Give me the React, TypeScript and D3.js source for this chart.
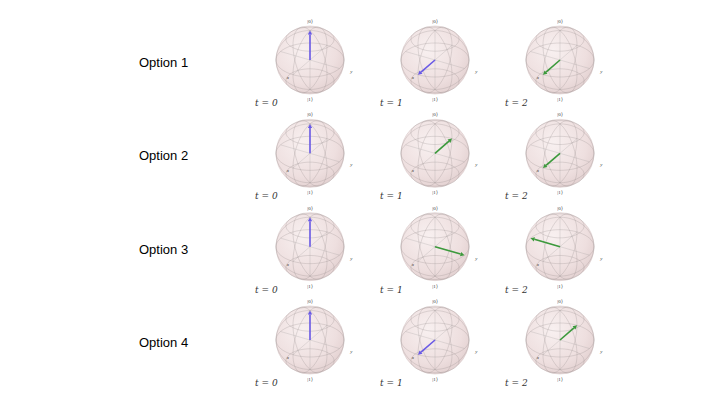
import * as d3 from 'd3';

const options = ['Option 1', 'Option 2', 'Option 3', 'Option 4'];
const timeLabels = ['t = 0', 't = 1', 't = 2'];
// Bloch vectors per option and time step: [x, y, z]
const vectors: number[][][] = [
  [[0, 0, 1], [1, 0, 0], [1, 0, 0]],
  [[0, 0, 1], [-1, 0, 0], [1, 0, 0]],
  [[0, 0, 1], [0, 1, 0], [0, -1, 0]],
  [[0, 0, 1], [1, 0, 0], [-1, 0, 0]],
];
const vectorColors = [
  ['blue', 'blue', 'green'],
  ['blue', 'green', 'green'],
  ['blue', 'green', 'green'],
  ['blue', 'blue', 'green'],
];
const palette: Record<string, string> = { blue: '#6a5ae6', green: '#3c9a3c' };

const W = 720, H = 405;
const colX = d3.scalePoint<number>().domain([0, 1, 2]).range([310, 560]);
const rowY = d3.scalePoint<number>().domain([0, 1, 2, 3]).range([60, 340]);
const R = 34;

const az = (30 * Math.PI) / 180, el = (30 * Math.PI) / 180;
const right = [-Math.sin(az), Math.cos(az), 0];
const up = [-Math.cos(az) * Math.sin(el), -Math.sin(az) * Math.sin(el), Math.cos(el)];
const dot = (a: number[], b: number[]) => a[0] * b[0] + a[1] * b[1] + a[2] * b[2];
const proj = (p: number[]): [number, number] => [dot(p, right) * R, -dot(p, up) * R];

const line = d3.line<number[]>().x((p) => proj(p)[0]).y((p) => proj(p)[1]);
const steps = d3.range(0, 361, 6).map((d) => (d * Math.PI) / 180);
const circles: number[][][] = [];
[-45, 0, 45].forEach((lat) => {
  const t = (lat * Math.PI) / 180;
  circles.push(steps.map((s) => [Math.cos(t) * Math.cos(s), Math.cos(t) * Math.sin(s), Math.sin(t)]));
});
[0, 60, 120].forEach((lon) => {
  const p = (lon * Math.PI) / 180;
  circles.push(steps.map((s) => [Math.cos(s) * Math.cos(p), Math.cos(s) * Math.sin(p), Math.sin(s)]));
});

function Bloch({ cx, cy, v, color, id }: { cx: number; cy: number; v: number[]; color: string; id: string }) {
  const [ex, ey] = proj(v);
  const ang = Math.atan2(ey, ex);
  const len = Math.hypot(ex, ey);
  const hx = ex - Math.cos(ang) * 4, hy = ey - Math.sin(ang) * 4;
  const [xl, yl] = proj([1.3, 0, 0]);
  const [yxl, yyl] = proj([0, 1.3, 0]);
  return (
    <g transform={`translate(${cx},${cy})`}>
      <circle r={R} fill={`url(#${id})`} stroke="#d8caca" strokeWidth={0.6} />
      {circles.map((c, i) => (
        <path key={i} d={line(c) ?? ''} fill="none" stroke="#8a8080" strokeOpacity={0.4} strokeWidth={0.6} />
      ))}
      <path d={line([[-1, 0, 0], [1, 0, 0]]) ?? ''} stroke="#888" strokeOpacity={0.4} strokeWidth={0.5} />
      <path d={line([[0, -1, 0], [0, 1, 0]]) ?? ''} stroke="#888" strokeOpacity={0.4} strokeWidth={0.5} />
      <path d={line([[0, 0, -1], [0, 0, 1]]) ?? ''} stroke="#888" strokeOpacity={0.4} strokeWidth={0.5} />
      {len > 1 && (
        <g>
          <line x1={0} y1={0} x2={hx} y2={hy} stroke={palette[color]} strokeWidth={1.6} />
          <path
            d={`M${ex},${ey} L${hx + Math.sin(ang) * 2.2},${hy - Math.cos(ang) * 2.2} L${hx - Math.sin(ang) * 2.2},${hy + Math.cos(ang) * 2.2} Z`}
            fill={palette[color]}
          />
        </g>
      )}
      <text x={0} y={-R - 3} fontSize={5} textAnchor="middle" fill="#333">|0⟩</text>
      <text x={0} y={R + 7} fontSize={5} textAnchor="middle" fill="#333">|1⟩</text>
      <text x={xl} y={yl} fontSize={5} textAnchor="middle" fontStyle="italic" fill="#333">x</text>
      <text x={yxl + 3} y={yyl + 2} fontSize={5} textAnchor="middle" fontStyle="italic" fill="#333">y</text>
    </g>
  );
}

export default function App() {
  return (
    <svg width={W} height={H} style={{ position: 'absolute', left: 0, top: 0, background: '#fff' }}>
      <defs>
        <radialGradient id="sph" cx="40%" cy="35%" r="70%">
          <stop offset="0%" stopColor="#f8f0f0" />
          <stop offset="70%" stopColor="#eedfdf" />
          <stop offset="100%" stopColor="#e2d0d0" />
        </radialGradient>
      </defs>
      {options.map((opt, r) => (
        <g key={opt}>
          <text x={139} y={rowY(r)! + 7} fontFamily="'Liberation Sans', Arial, sans-serif" fontSize={13} fill="#000">
            {opt}
          </text>
          {timeLabels.map((tl, c) => (
            <g key={tl}>
              <Bloch cx={colX(c)!} cy={rowY(r)!} v={vectors[r][c]} color={vectorColors[r][c]} id="sph" />
              <text
                x={colX(c)! - 55}
                y={rowY(r)! + 46}
                fontFamily="'DejaVu Serif', serif"
                fontStyle="italic"
                fontSize={9}
                fill="#333"
              >
                {tl}
              </text>
            </g>
          ))}
        </g>
      ))}
    </svg>
  );
}
